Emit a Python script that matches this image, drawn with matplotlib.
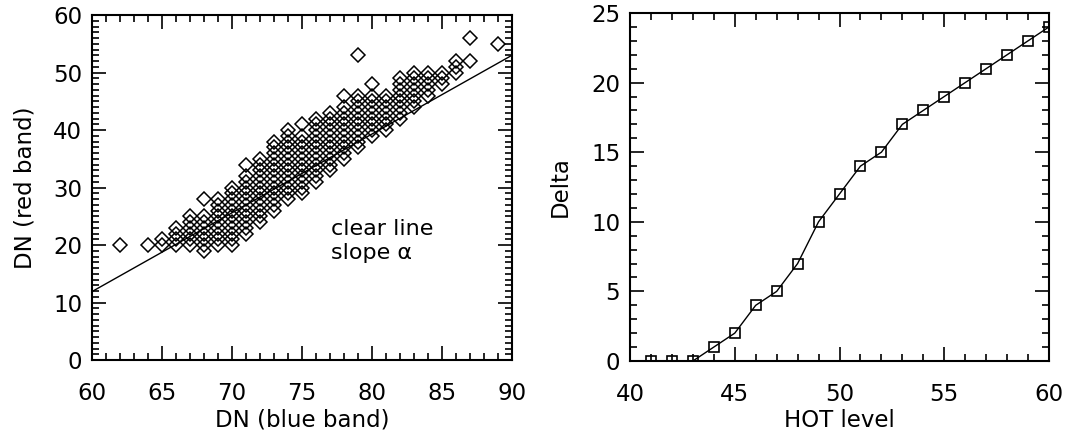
import numpy as np
import matplotlib
matplotlib.use("Agg")
from matplotlib import pyplot as plt
from matplotlib.ticker import MultipleLocator

# left panel: DN scatter, each blue-band column filled between lo and hi
col_x = [65, 66, 67, 68, 69, 70, 71, 72, 73, 74, 75, 76, 77, 78, 79, 80, 81, 82, 83, 84, 85, 86]
col_lo = [20, 20, 20, 19, 20, 20, 22, 24, 26, 28, 29, 31, 33, 35, 37, 39, 40, 42, 44, 46, 48, 50]
col_hi = [21, 23, 25, 25, 28, 30, 32, 35, 38, 40, 39, 42, 43, 44, 46, 46, 46, 49, 50, 50, 50, 52]
extra_x = [62, 64, 68, 71, 75, 78, 79, 80, 87, 87, 89]
extra_y = [20, 20, 28, 34, 41, 46, 53, 48, 52, 56, 55]

clear_line_x = [60, 90]
clear_line_y = [11.9, 53.0]

# right panel
hot_level = [41, 42, 43, 44, 45, 46, 47, 48, 49, 50, 51, 52, 53, 54, 55, 56, 57, 58, 59, 60]
delta = [0, 0, 0, 1, 2, 4, 5, 7, 10, 12, 14, 15, 17, 18, 19, 20, 21, 22, 23, 24]

plt.rcParams['font.family'] = ['DejaVu Sans']
plt.rcParams['font.size'] = 16.5

fig = plt.figure(figsize=(10.72, 4.36), dpi=100)
ax1 = fig.add_axes([92 / 1072, 76 / 436, 420 / 1072, 345 / 436])
ax2 = fig.add_axes([630 / 1072, 75 / 436, 419 / 1072, 348 / 436])

px, py = [], []
for x, lo, hi in zip(col_x, col_lo, col_hi):
    for y in range(lo, hi + 1):
        px.append(x)
        py.append(y)
px += extra_x
py += extra_y

ax1.plot(px, py, ls="none", marker="D", ms=7.3, mfc="none", mec="black", mew=1.1)
ax1.plot(clear_line_x, clear_line_y, color="black", lw=1)
ax1.text(77.1, 20.7, "clear line\nslope α", fontsize=16, linespacing=1.25, va="center")
ax1.set_xlim(60, 90)
ax1.set_ylim(0, 60)
ax1.xaxis.set_major_locator(MultipleLocator(5))
ax1.xaxis.set_minor_locator(MultipleLocator(1))
ax1.yaxis.set_major_locator(MultipleLocator(10))
ax1.yaxis.set_minor_locator(MultipleLocator(1))
ax1.set_xlabel("DN (blue band)", labelpad=2)
ax1.set_ylabel("DN (red band)", labelpad=12)

ax2.plot(hot_level, delta, color="black", lw=1, marker="s", ms=7, mfc="none", mec="black", mew=1.2)
ax2.set_xlim(40, 60)
ax2.set_ylim(0, 25)
ax2.xaxis.set_major_locator(MultipleLocator(5))
ax2.xaxis.set_minor_locator(MultipleLocator(1))
ax2.yaxis.set_major_locator(MultipleLocator(5))
ax2.yaxis.set_minor_locator(MultipleLocator(1))
ax2.set_xlabel("HOT level", labelpad=2)
ax2.set_ylabel("Delta", labelpad=14)

for ax in (ax1, ax2):
    for s in ax.spines.values():
        s.set_linewidth(1.5)
    ax.tick_params(which="both", direction="in", top=True, right=True, width=1.2)
    ax.tick_params(which="major", length=10)
    ax.tick_params(which="minor", length=5)
    ax.tick_params(axis="x", which="major", pad=16)
    ax.tick_params(axis="y", which="major", pad=7)

fig.savefig("out.png", dpi=100)
